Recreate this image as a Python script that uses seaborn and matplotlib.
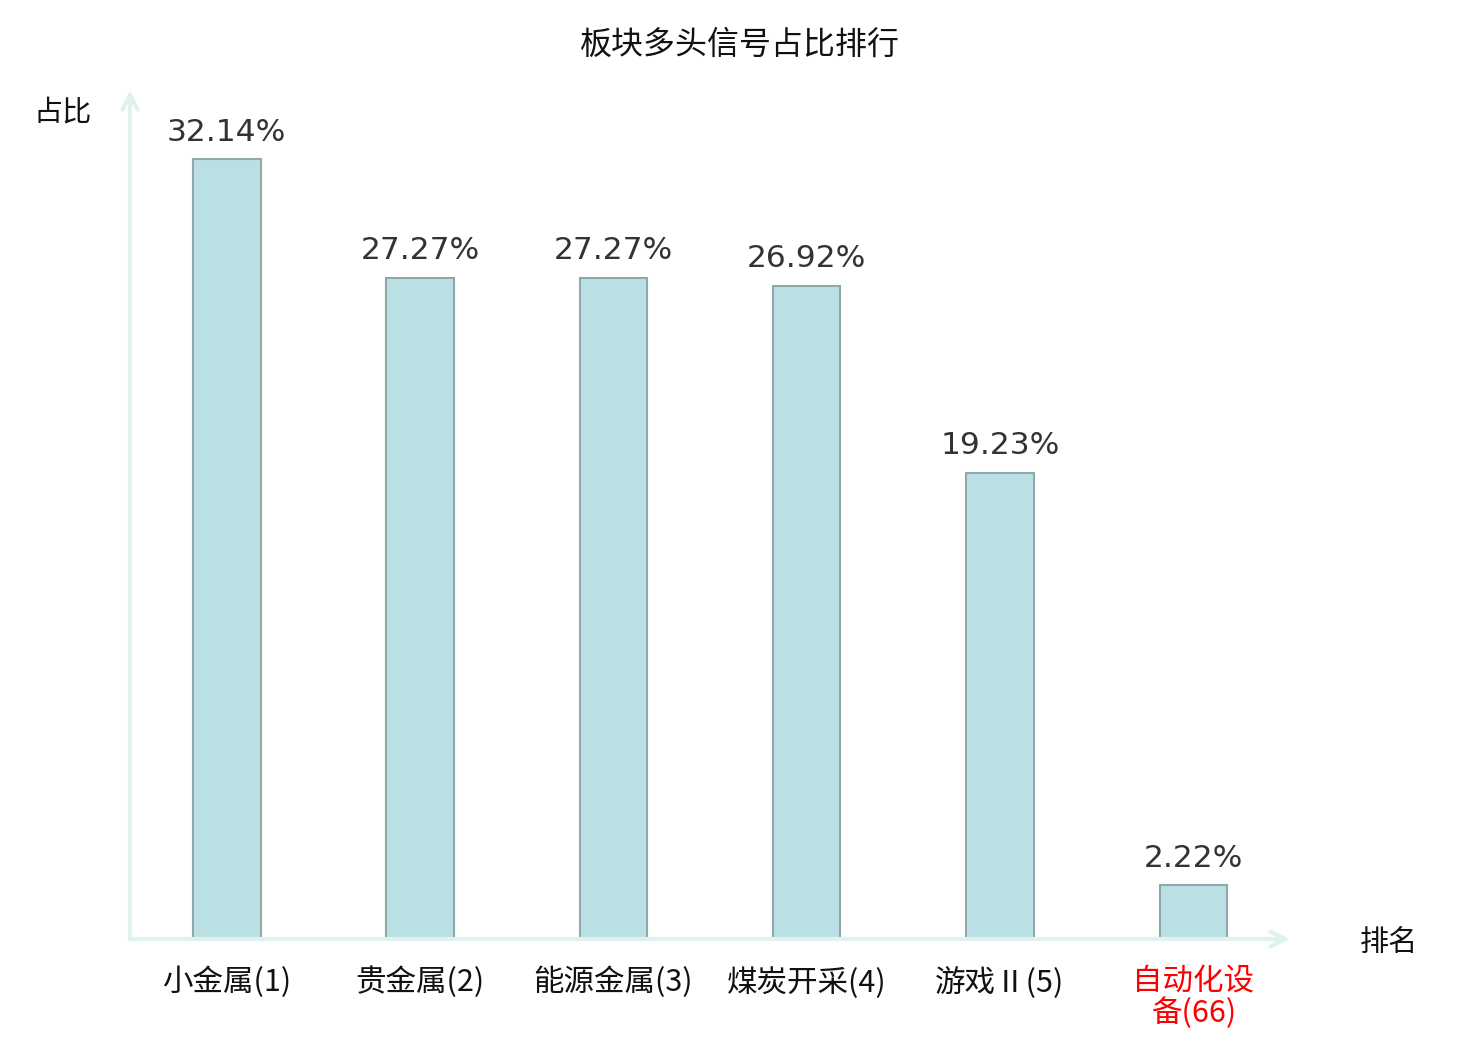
import seaborn as sns
import matplotlib.pyplot as plt
import pandas as pd

# 数据
categories = ['小金属(1)', '贵金属(2)', '能源金属(3)', '煤炭开采(4)', '游戏Ⅱ(5)', '自动化设\n备(66)']
values = [32.14, 27.27, 27.27, 26.92, 19.23, 2.22]
value_labels = ['32.14%', '27.27%', '27.27%', '26.92%', '19.23%', '2.22%']

sns.set_theme(style='white')
plt.rcParams['font.family'] = ['Noto Sans CJK SC', 'DejaVu Sans']

df = pd.DataFrame({'板块': categories, '占比': values})

fig = plt.figure(figsize=(14.8, 10.4), dpi=100)
ax = fig.add_axes([130 / 1480, 101 / 1040, 1160 / 1480, 849 / 1040])

sns.barplot(data=df, x='板块', y='占比', ax=ax, color='#bbe0e3', saturation=1,
            width=0.35, edgecolor='#8fa9aa', linewidth=1.5)

bl = ax.bar_label(ax.containers[0], labels=value_labels, padding=9,
                  fontsize=22.5, color='#333333')
for t in bl:
    t.set_fontfamily('DejaVu Sans')

ax.set_xlim(-0.5, 5.5)
ax.set_ylim(0, 35)
ax.set_yticks([])
ax.set_xlabel('')
ax.set_ylabel('')
ax.tick_params(axis='x', length=0, pad=20, labelsize=22, labelcolor='#111111')
for lab in ax.get_xticklabels():
    lab.set_linespacing(1.0)
ax.get_xticklabels()[-1].set_color('red')

for s in ['top', 'right', 'left', 'bottom']:
    ax.spines[s].set_visible(False)

# 带箭头的坐标轴
axis_color = '#dff2f0'
ax.annotate('', xy=(1, 0), xytext=(0, 0), xycoords='axes fraction',
            arrowprops=dict(arrowstyle='->,head_length=0.9,head_width=0.45',
                            color=axis_color, lw=3, shrinkA=0, shrinkB=0))
ax.annotate('', xy=(0, 1), xytext=(0, 0), xycoords='axes fraction',
            arrowprops=dict(arrowstyle='->,head_length=0.9,head_width=0.45',
                            color=axis_color, lw=3, shrinkA=0, shrinkB=0))

fig.text(740 / 1480, 1 - 45 / 1040, '板块多头信号占比排行', ha='center', va='center',
         fontsize=23, color='#111111')
fig.text(33 / 1480, 1 - 112 / 1040, '占比', ha='left', va='center', fontsize=21, color='#111111')
fig.text(1360 / 1480, 1 - 943 / 1040, '排名', ha='left', va='center', fontsize=21, color='#111111')

fig.savefig('out.png', dpi=100)
